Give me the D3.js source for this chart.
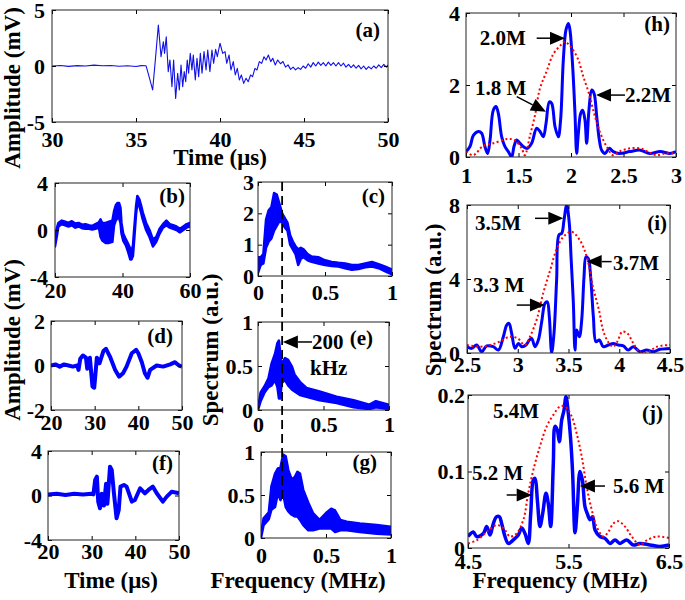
<!DOCTYPE html>
<html><head><meta charset="utf-8">
<script src="https://cdn.jsdelivr.net/npm/d3@7"></script>
<style>
body{margin:0;background:#fff}
text{font-family:"Liberation Serif","Times New Roman",serif;font-weight:bold;fill:#000}
</style>
</head><body><script>
// ---------- DATA ----------
// (a) time signal
const aTime = [30,30.5,31,31.5,32,32.5,33,33.5,34,34.5,35,35.3,35.6,35.75,35.99,36.15,36.33,36.49,36.63,36.7,36.8,36.92,37.02,37.14,37.24,37.36,37.48,37.58,37.68,37.78,37.87,37.96,38.05,38.13,38.23,38.33,38.41,38.53,38.63,38.73,38.83,38.93,39.05,39.17,39.27,39.4,39.52,39.62,39.74,39.84,40.0,40.16,40.3,40.4,40.54,40.65,40.79,40.91,41.03,41.15,41.27,41.41,41.55,41.68,41.82,41.94,42.08,42.2,42.34,42.48,42.62,42.74,42.88,43.02,43.14,43.29,43.43,43.6,43.75,43.9,44.05,44.2,44.35,44.5,44.65,44.8,44.95,45.1,45.25,45.4,45.55,45.7,45.85,46.0,46.15,46.3,46.45,46.6,46.75,46.9,47.05,47.2,47.35,47.5,47.65,47.8,47.95,48.1,48.25,48.4,48.55,48.7,48.85,49.0,49.15,49.3,49.45,49.6,49.75,49.9,50];
const aAmp = [0,0.05,-0.03,0.03,0,0.08,0.02,0.05,-0.02,0.02,-0.05,0.03,0.02,-0.8,-2.14,0.5,3.66,0.83,2.17,1.13,2.6,-0.5,0.54,-1.85,0.54,-2.89,-0.65,-2.14,0.09,-1.85,-0.5,-1.4,0.54,-0.65,1.13,-0.36,0.98,-1.25,0.69,-0.95,1.13,-0.65,1.28,-0.36,1.43,-0.5,1.43,0.24,1.49,0.83,2.03,1.13,1.28,0.24,0.98,-0.36,0.39,-0.8,-0.21,-1.25,-0.8,-1.55,-1.1,-1.4,-0.8,-0.95,-0.21,-0.36,0.39,0.24,0.83,0.54,0.98,0.39,0.69,0.09,0.54,0.2,0.4,-0.1,0.1,-0.3,-0.1,-0.35,-0.15,-0.3,0.0,-0.2,0.2,-0.1,0.3,0.0,0.35,0.05,0.3,0.0,0.35,0.05,0.3,0.0,0.3,0.0,0.25,-0.1,0.15,-0.15,0.1,-0.2,0.05,-0.25,0.0,-0.3,-0.05,-0.25,0.0,-0.2,0.1,-0.15,0.15,-0.1,0.1];

// (b) time signal envelope (upper / lower)
const bTime = [20,20.5,21,22,23,24,25,26,27,28,29,30,31,32,33,33.5,34,35,36,37,37.5,38,38.5,39,39.4,39.7,40.2,41,41.7,42.3,42.7,43.1,43.5,44,44.4,45,45.5,46,47,48,49,50,51,52,53,54,55,56,57,58,59,60];
const bHi = [-0.8,0.1,0.6,0.8,0.7,0.6,0.75,0.55,0.6,0.45,0.5,0.4,0.35,0.5,0.65,0.9,0.6,0.6,0.7,0.8,1.6,2.1,2.3,2.3,1.9,0.6,-0.3,-0.8,-1.2,-1.6,-1.8,-1.3,0.2,2.0,2.9,2.6,2.1,1.5,0.6,0.0,-0.8,-0.6,0.1,0.5,0.8,0.5,0.4,0.3,0.1,0.3,0.5,0.6];
const bLo = [-1.4,-0.6,0.3,0.5,0.4,0.3,0.4,0.2,0.3,0.15,0.1,0.1,0.05,0.1,0.2,-0.6,-0.9,-1.1,-1.1,-1.0,0.4,0.8,1.0,1.0,0.6,-0.3,-0.9,-1.3,-1.9,-2.5,-2.5,-2.2,-0.7,1.3,2.3,2.0,1.5,0.9,0.0,-0.6,-1.4,-1.0,-0.3,0.2,0.4,0.2,0.1,0.0,-0.2,0.0,0.2,0.3];

// (c) spectrum envelope
const cFreq = [0,0.02,0.04,0.06,0.08,0.1,0.12,0.14,0.16,0.18,0.2,0.22,0.24,0.26,0.28,0.3,0.32,0.34,0.37,0.4,0.45,0.5,0.55,0.6,0.65,0.7,0.75,0.8,0.85,0.9,0.95,1.0];
const cHi = [0.6,0.6,0.7,1.8,2.1,2.2,2.65,2.6,2.3,2.0,1.85,1.7,1.3,1.1,0.95,0.85,0.9,0.85,0.7,0.62,0.6,0.5,0.45,0.42,0.4,0.35,0.35,0.4,0.45,0.38,0.3,0.2];
const cLo = [0.1,0.35,0.4,0.9,1.1,1.2,1.45,1.6,1.75,1.7,1.55,1.45,1.0,0.85,0.7,0.35,0.55,0.6,0.5,0.45,0.4,0.35,0.32,0.3,0.25,0.2,0.22,0.28,0.3,0.25,0.15,0.05];

// (d) time signal
const dTime = [20,21,22,23,24,25,26,26.3,26.7,27.3,28,28.3,28.9,29.5,29.9,30.5,31.1,32,32.6,33.5,34.7,35.6,36.5,37.3,38.5,39.5,40,40.8,41.5,42.1,42.7,44.2,45.7,47.3,48.4,49.3,50];
const dAmp = [0,0.05,-0.05,0.05,0,-0.05,0,-0.2,0.3,0.45,0.35,-0.15,0.35,-0.95,-1.0,0.35,0.1,0.65,0.75,0.4,-0.2,-0.5,-0.35,-0.05,0.55,0.7,0.55,0.15,-0.35,-0.55,-0.2,0,-0.05,0.05,0.15,0,-0.05];

// (e) spectrum envelope
const eFreq = [0,0.02,0.05,0.08,0.104,0.13,0.148,0.16,0.17,0.18,0.19,0.206,0.23,0.26,0.28,0.32,0.37,0.47,0.6,0.73,0.85,0.9,1.0];
const eHi = [0.02,0.2,0.27,0.36,0.53,0.64,0.76,0.79,0.64,0.45,0.55,0.59,0.57,0.49,0.4,0.32,0.25,0.21,0.15,0.11,0.06,0.1,0.06];
const eLo = [0.0,0.1,0.2,0.26,0.28,0.34,0.26,0.13,0.13,0.3,0.32,0.34,0.28,0.23,0.21,0.17,0.15,0.11,0.08,0.03,0.01,0.03,0.01];

// (f) time signal
const fTime = [20,22,24,26,28,30,30.4,30.8,31.2,31.5,31.9,32.3,32.8,33.3,33.6,34.2,34.6,35.1,35.7,36.2,36.6,37.4,38,39.2,39.9,41.1,42.2,43,44,44.9,46.3,47.2,48.3,49.5,50];
const fAmp = [0.1,0.15,0.05,0.15,0.1,0.15,0.1,1.39,1.69,-0.55,-1.15,0.15,-0.9,1.05,-0.75,2.59,2.3,0.2,-2.05,-1.3,0.8,0.95,0.8,-0.55,-0.4,0.65,0.2,0.5,0.8,0.2,-0.55,-0.1,0.33,0.25,0.2];

// (g) spectrum envelope
const gFreq = [0,0.02,0.06,0.08,0.108,0.13,0.15,0.17,0.19,0.21,0.236,0.26,0.28,0.3,0.325,0.364,0.4,0.45,0.5,0.54,0.57,0.61,0.66,0.76,0.89,1.0];
const gHi = [0.05,0.23,0.3,0.6,0.75,0.81,0.82,0.97,0.95,0.79,0.68,0.71,0.77,0.75,0.56,0.41,0.29,0.21,0.29,0.34,0.32,0.21,0.19,0.17,0.15,0.13];
const gLo = [0.0,0.15,0.22,0.33,0.36,0.52,0.44,0.52,0.36,0.31,0.27,0.25,0.25,0.21,0.15,0.09,0.09,0.11,0.11,0.11,0.07,0.09,0.09,0.07,0.05,0.04];

const markerFreq = 0.18; // 200 kHz dashed marker

// (h) spectra
const hFreq = [1.0,1.038,1.07,1.117,1.149,1.18,1.206,1.229,1.26,1.286,1.308,1.34,1.371,1.403,1.435,1.457,1.482,1.508,1.546,1.584,1.625,1.673,1.705,1.736,1.762,1.794,1.816,1.848,1.879,1.901,1.927,1.952,1.975,1.99,2.016,2.038,2.054,2.07,2.092,2.111,2.133,2.149,2.171,2.197,2.219,2.245,2.27,2.292,2.324,2.365,2.403,2.46,2.56,2.66,2.75,2.85,2.94,3.0];
const hMeas = [0.15,0.29,0.6,0.71,0.66,0.29,0.1,0.47,1.3,1.4,1.21,0.56,0.29,0.15,0.0,0.29,0.47,0.4,0.29,0.24,0.38,0.8,0.71,0.56,0.93,1.53,1.49,0.84,0.56,1.03,2.7,3.53,3.71,3.53,2.51,1.21,0.1,0.66,1.21,1.3,1.03,0.38,1.3,1.86,1.77,1.12,0.47,0.19,0.1,0.24,0.15,0.1,0.15,0.19,0.1,0.15,0.1,0.15];
const hRefFreq = [1.0,1.07,1.16,1.26,1.39,1.46,1.53,1.56,1.61,1.66,1.7,1.77,1.83,1.9,1.94,2.0,2.07,2.11,2.17,2.22,2.28,2.34,2.4,2.46,2.56,2.66,2.73,2.81,2.9,3.0];
const hRef = [0.15,0.05,0.3,0.38,0.5,0.47,0.24,0.05,0.6,1.2,1.86,2.4,2.85,3.1,3.2,3.05,2.7,2.3,1.77,1.21,0.66,0.29,0.05,0.15,0.24,0.24,0.15,0.05,0.1,0.1];

// (i) spectra
const iFreq = [2.5,2.546,2.595,2.645,2.694,2.759,2.809,2.858,2.891,2.914,2.94,2.973,3.006,3.039,3.081,3.114,3.137,3.17,3.203,3.236,3.268,3.291,3.311,3.334,3.357,3.383,3.406,3.433,3.456,3.482,3.508,3.525,3.548,3.564,3.58,3.607,3.63,3.653,3.672,3.695,3.718,3.745,3.771,3.804,3.843,3.892,3.942,3.991,4.04,4.089,4.139,4.204,4.27,4.336,4.401,4.5];
const iMeas = [0.34,0.25,0.43,0.07,0.38,0.34,0.16,0.88,1.51,1.6,1.06,0.25,0.52,0.34,0.43,0.7,0.79,0.34,0.7,1.69,2.68,2.77,1.96,0.0,1.06,3.95,6.38,6.47,7.19,8.0,7.0,5.2,2.68,0.16,1.24,0.88,1.78,4.13,5.2,5.11,4.13,1.96,0.61,0.7,0.34,0.43,0.52,0.43,0.38,0.16,0.34,0.07,0.16,0.07,0.2,0.25];
const iRefFreq = [2.5,2.63,2.73,2.82,2.92,3.0,3.07,3.12,3.19,3.25,3.32,3.38,3.45,3.53,3.61,3.68,3.74,3.8,3.84,3.89,3.94,3.98,4.03,4.08,4.14,4.2,4.27,4.37,4.5];
const iRef = [0.43,0.34,0.43,0.61,0.88,0.79,0.43,0.88,1.87,3.22,4.49,5.57,6.29,6.56,6.11,5.2,3.59,2.33,1.24,0.61,0.34,0.61,1.15,1.06,0.52,0.07,0.0,0.34,0.43];

// (j) spectra
const jFreq = [4.5,4.553,4.586,4.653,4.686,4.719,4.752,4.785,4.812,4.835,4.868,4.901,4.951,5.001,5.034,5.067,5.1,5.124,5.15,5.167,5.19,5.216,5.243,5.276,5.299,5.323,5.349,5.366,5.389,5.409,5.432,5.455,5.475,5.498,5.522,5.541,5.565,5.588,5.614,5.638,5.664,5.687,5.714,5.74,5.764,5.813,5.863,5.913,5.963,6.012,6.079,6.145,6.211,6.311,6.41,6.5];
const jMeas = [0.015,0.021,0.015,0.019,0.028,0.017,0.032,0.041,0.041,0.032,0.015,0.006,0.0105,0.017,0.026,0.019,0.006,0.045,0.089,0.091,0.063,0.028,0.045,0.0715,0.058,0.028,0.111,0.159,0.154,0.139,0.167,0.18,0.198,0.176,0.141,0.098,0.02,0.054,0.1,0.089,0.054,0.045,0.037,0.041,0.0235,0.015,0.0126,0.006,0.0105,0.006,0.0105,0.004,0.006,0.004,0.002,0.004];
const jRefFreq = [4.5,4.586,4.686,4.785,4.852,4.918,4.984,5.051,5.1,5.15,5.216,5.283,5.349,5.415,5.465,5.532,5.581,5.631,5.681,5.731,5.78,5.847,5.896,5.946,5.996,6.062,6.129,6.211,6.278,6.377,6.5];
const jRef = [0.006,0.01,0.021,0.03,0.026,0.015,0.019,0.037,0.072,0.102,0.133,0.159,0.174,0.185,0.185,0.172,0.15,0.12,0.08,0.05,0.028,0.015,0.021,0.032,0.035,0.028,0.015,0.004,0.01,0.015,0.013];

// tick labels
const ticksA = {x:[30,35,40,45,50], y:[-5,0,5]};
const ticksB = {x:[20,40,60], y:[-4,0,4]};
const ticksC = {x:[0,0.5,1], y:[0,1,2,3]};
const ticksD = {x:[20,30,40,50], y:[-2,0,2]};
const ticksE = {x:[0,0.5,1], y:[0,0.5,1]};
const ticksF = {x:[20,30,40,50], y:[-4,0,4]};
const ticksG = {x:[0,0.5,1], y:[0,0.5,1]};
const ticksH = {x:[1,1.5,2,2.5,3], y:[0,2,4]};
const ticksI = {x:[2.5,3,3.5,4,4.5], y:[0,4,8]};
const ticksJ = {x:[4.5,5.5,6.5], y:[0,0.1,0.2]};

// ---------- DRAWING ----------
const BLUE = "#0000ff", RED = "#ff0000";
const svg = d3.select("body").append("svg").attr("width",685).attr("height",600);
let clipN = 0;

function panel(o){
  const x = d3.scaleLinear().domain(o.xd).range([o.l,o.r]);
  const y = d3.scaleLinear().domain(o.yd).range([o.b,o.t]);
  const g = svg.append("g");
  const id = "clip"+(clipN++);
  svg.append("clipPath").attr("id",id).append("rect")
    .attr("x",o.l).attr("y",o.t).attr("width",o.r-o.l).attr("height",o.b-o.t);
  const data = g.append("g").attr("clip-path",`url(#${id})`);
  const fmt = d=>String(d);
  const tl = 4;
  g.append("g").attr("transform",`translate(0,${o.b})`)
    .call(d3.axisBottom(x).tickValues(o.ticks.x).tickFormat(fmt).tickSizeInner(-tl).tickSizeOuter(0).tickPadding(o.xp));
  g.append("g").attr("transform",`translate(0,${o.t})`)
    .call(d3.axisTop(x).tickValues(o.ticks.x).tickFormat("").tickSizeInner(-tl).tickSizeOuter(0));
  g.append("g").attr("transform",`translate(${o.l},0)`)
    .call(d3.axisLeft(y).tickValues(o.ticks.y).tickFormat(fmt).tickSizeInner(-tl).tickSizeOuter(0).tickPadding(o.yp));
  g.append("g").attr("transform",`translate(${o.r},0)`)
    .call(d3.axisRight(y).tickValues(o.ticks.y).tickFormat("").tickSizeInner(-tl).tickSizeOuter(0));
  g.selectAll(".domain").remove();
  g.selectAll(".tick line").attr("stroke","#000");
  g.selectAll(".tick text").attr("font-size",o.fs||22).attr("fill","#000");
  g.append("rect").attr("x",o.l).attr("y",o.t).attr("width",o.r-o.l).attr("height",o.b-o.t)
    .attr("fill","none").attr("stroke","#222").attr("stroke-width",1);
  g.append("text").text(o.name).attr("x",o.r-o.ndx).attr("y",o.t+o.ndy)
    .attr("text-anchor","end").attr("font-size",21);
  return {x,y,data};
}

function drawLine(P, xs, ys, color, width, dash, curve){
  const pts = xs.map((v,i)=>[v,ys[i]]);
  const line = d3.line().x(d=>P.x(d[0])).y(d=>P.y(d[1])).curve(curve||d3.curveLinear);
  const p = P.data.append("path").attr("d",line(pts)).attr("fill","none")
    .attr("stroke",color).attr("stroke-width",width).attr("stroke-linejoin","round");
  if(dash) p.attr("stroke-dasharray",dash);
}
function drawBand(P, xs, hi, lo, width){
  const pts = xs.map((v,i)=>[v,hi[i],lo[i]]);
  const area = d3.area().x(d=>P.x(d[0])).y0(d=>P.y(d[2])).y1(d=>P.y(d[1]));
  P.data.append("path").attr("d",area(pts)).attr("fill",BLUE)
    .attr("stroke",BLUE).attr("stroke-width",width).attr("stroke-linejoin","round");
}
function arrow(P, f1, v1, f2, v2){
  const x1=P.x(f1), y1=P.y(v1), x2=P.x(f2), y2=P.y(v2);
  const a = Math.atan2(y2-y1, x2-x1);
  const L = 15, W = 6.5;
  const bx = x2 - L*Math.cos(a), by = y2 - L*Math.sin(a);
  svg.append("line").attr("x1",x1).attr("y1",y1).attr("x2",bx).attr("y2",by)
    .attr("stroke","#000").attr("stroke-width",1.5);
  svg.append("path").attr("d",`M${x2},${y2}L${bx - W*Math.sin(a)},${by + W*Math.cos(a)}L${bx + W*Math.sin(a)},${by - W*Math.cos(a)}Z`)
    .attr("fill","#000");
}
function note(P, f, v, txt, size){
  svg.append("text").attr("x",P.x(f)).attr("y",P.y(v)).attr("font-size",size||21).text(txt);
}

const A = panel({l:52,r:388,t:10,b:122,xd:[30,50],yd:[-5,5],ticks:ticksA,xp:9,yp:7,name:"(a)",ndx:8,ndy:27});
const B = panel({l:55,r:190,t:183,b:277,xd:[20,60],yd:[-4,4],ticks:ticksB,xp:5,yp:7,name:"(b)",ndx:5,ndy:20});
const C = panel({l:258,r:392,t:182,b:276,xd:[0,1],yd:[0,3],ticks:ticksC,xp:8,yp:4,name:"(c)",ndx:7,ndy:21});
const D = panel({l:51,r:182,t:321,b:410,xd:[20,50],yd:[-2,2],ticks:ticksD,xp:4,yp:6,name:"(d)",ndx:9,ndy:22});
const E = panel({l:258,r:389,t:322,b:410,xd:[0,1],yd:[0,1],ticks:ticksE,xp:6,yp:5,name:"(e)",ndx:16,ndy:23});
const F = panel({l:48,r:179,t:451,b:540,xd:[20,50],yd:[-4,4],ticks:ticksF,xp:3,yp:6,name:"(f)",ndx:6,ndy:19});
const G = panel({l:261,r:391,t:452,b:538,xd:[0,1],yd:[0,1],ticks:ticksG,xp:9,yp:6,name:"(g)",ndx:14,ndy:17});
const H = panel({l:466,r:676,t:13,b:157,xd:[1,3],yd:[0,4],ticks:ticksH,xp:10,yp:6,name:"(h)",ndx:6,ndy:18});
const I = panel({l:467,r:670,t:205,b:353,xd:[2.5,4.5],yd:[0,8],ticks:ticksI,xp:3,yp:7,name:"(i)",ndx:3,ndy:25});
const J = panel({l:468,r:669,t:395,b:548,xd:[4.5,6.5],yd:[0,0.2],ticks:ticksJ,xp:5,yp:3,name:"(j)",ndx:6,ndy:25});

drawLine(A, aTime, aAmp, "#1010e8", 1.1);
drawBand(B, bTime, bHi, bLo, 2.5);
drawBand(C, cFreq, cHi, cLo, 2.5);
drawLine(D, dTime, dAmp, BLUE, 4);
drawBand(E, eFreq, eHi, eLo, 2.5);
drawLine(F, fTime, fAmp, BLUE, 4);
drawBand(G, gFreq, gHi, gLo, 2.5);

const smooth = d3.curveCatmullRom.alpha(0.5);
drawLine(H, hFreq, hMeas, BLUE, 3, null, smooth);
drawLine(H, hRefFreq, hRef, RED, 2, "2,2.5", smooth);
drawLine(I, iFreq, iMeas, BLUE, 3, null, smooth);
drawLine(I, iRefFreq, iRef, RED, 2, "2,2.5", smooth);
drawLine(J, jFreq, jMeas, BLUE, 3.5, null, smooth);
drawLine(J, jRefFreq, jRef, RED, 2, "2,2.5", smooth);

// dashed 200 kHz marker
svg.append("line").attr("x1",C.x(markerFreq)).attr("x2",C.x(markerFreq))
  .attr("y1",C.y(3)).attr("y2",G.y(0.4))
  .attr("stroke","#000").attr("stroke-width",1.8).attr("stroke-dasharray","9,5");

// annotations
arrow(E, 0.412, 0.773, 0.19, 0.773);
note(E, 0.412, 0.69, "200");
note(E, 0.397, 0.4, "kHz");

note(H, 1.13, 3.11, "2.0M");
arrow(H, 1.673, 3.3, 1.943, 3.3);
note(H, 1.086, 1.72, "1.8 M");
arrow(H, 1.483, 1.675, 1.762, 1.26);
note(H, 2.514, 1.53, "2.2M");
arrow(H, 2.514, 1.72, 2.238, 1.72);

note(I, 2.579, 6.65, "3.5M");
arrow(I, 3.17, 7.28, 3.449, 7.28);
note(I, 3.938, 4.49, "3.7M");
arrow(I, 3.925, 4.94, 3.679, 4.94);
note(I, 2.559, 3.3, "3.3 M");
arrow(I, 2.99, 2.59, 3.268, 2.59);

note(J, 4.749, 0.17, "5.4M");
note(J, 4.54, 0.0889, "5.2 M");
arrow(J, 4.885, 0.0693, 5.134, 0.0693);
note(J, 5.943, 0.0719, "5.6 M");
arrow(J, 5.863, 0.081, 5.614, 0.081);

// axis titles
function title(x, y, txt, rot){
  const t = svg.append("text").attr("font-size",23).attr("text-anchor","middle").text(txt);
  if(rot) t.attr("transform",`translate(${x},${y}) rotate(-90)`);
  else t.attr("x",x).attr("y",y);
}
title(20, 88, "Amplitude (mV)", true);
title(220, 165, "Time (\u03bcs)");
title(20, 340, "Amplitude (mV)", true);
title(218, 350, "Spectrum (a.u.)", true);
title(441, 300, "Spectrum (a.u.)", true);
title(111, 588, "Time (\u03bcs)");
title(298, 588, "Frequency (MHz)");
title(560, 588, "Frequency (MHz)");
</script></body></html>
